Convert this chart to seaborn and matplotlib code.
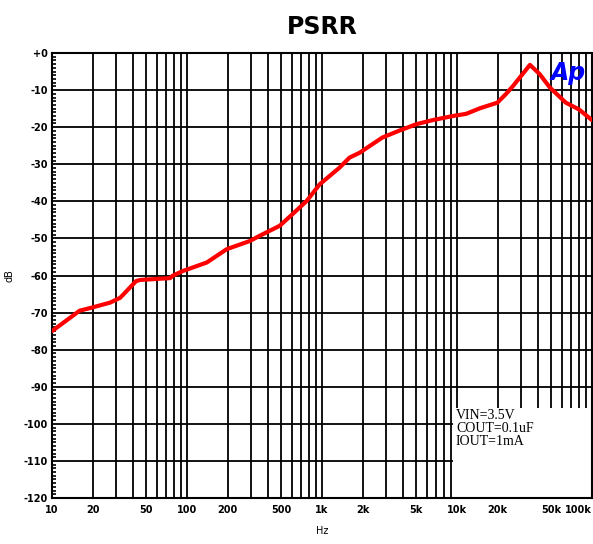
import numpy as np
import matplotlib
matplotlib.use('Agg')
import matplotlib.pyplot as plt
import seaborn as sns
from matplotlib.patches import Rectangle
from matplotlib.ticker import FixedLocator, MultipleLocator, NullFormatter


# PSRR curve (Hz, dB)
freq_hz = [10, 16, 20, 27, 32, 42, 45, 75, 78, 93, 140, 197, 292, 345, 486,
           607, 770, 962, 1350, 1600, 1900, 2800, 3700, 5000, 6600, 9300,
           11700, 14800, 19900, 23000, 26000, 34700, 41000, 48700, 64000,
           80000, 100000]
psrr_db = [-75.0, -69.5, -68.6, -67.3, -66.0, -61.5, -61.2, -60.7, -60.1, -58.8,
           -56.5, -52.9, -50.7, -49.3, -46.6, -43.4, -39.9, -35.4, -30.9, -28.2,
           -26.9, -22.8, -21.0, -19.2, -18.1, -17.0, -16.4, -14.9, -13.4, -11.1,
           -8.9, -3.2, -5.7, -9.3, -13.4, -15.2, -18.1]

x_ticks = [10, 20, 50, 100, 200, 500, 1000, 2000, 5000, 10000, 20000, 50000, 100000]
x_labels = ['10', '20', '50', '100', '200', '500', '1k', '2k', '5k', '10k', '20k', '50k', '100k']
y_ticks = list(range(0, -130, -10))
y_labels = ['+0'] + [str(v) for v in y_ticks[1:]]
notes = 'VIN=3.5V\nCOUT=0.1uF\nIOUT=1mA'

sns.set_style('white')
plt.rcParams['font.family'] = ['DejaVu Sans']
plt.rcParams.update({'text.color': 'black', 'axes.labelcolor': 'black',
                     'xtick.color': 'black', 'ytick.color': 'black'})

fig = plt.figure(figsize=(5.93, 5.44), dpi=100)
ax = fig.add_axes([52 / 593, 46 / 544, 540 / 593, 445 / 544])

sns.lineplot(x=freq_hz, y=psrr_db, color='red', linewidth=3, ax=ax, zorder=3)

ax.set_xscale('log')
ax.set_xlim(10, 100000)
ax.set_ylim(-120, 0)

# grid on every 1..9 of each decade, every 10 dB
minor_x = [m * 10 ** d for d in range(1, 5) for m in range(2, 10)]
ax.xaxis.set_major_locator(FixedLocator(x_ticks))
ax.xaxis.set_minor_locator(FixedLocator(minor_x))
ax.xaxis.set_minor_formatter(NullFormatter())
ax.set_xticklabels(x_labels)
ax.set_yticks(y_ticks)
ax.set_yticklabels(y_labels)
ax.yaxis.set_minor_locator(MultipleLocator(1))

ax.grid(True, which='major', axis='y', color='black', linewidth=1.3)
ax.grid(True, which='both', axis='x', color='black', linewidth=1.3)

ax.tick_params(axis='y', which='major', direction='in', length=7, width=1.2,
               labelsize=7, pad=3)
ax.tick_params(axis='y', which='minor', direction='in', length=3, width=1.2, left=True)
ax.tick_params(axis='x', which='major', direction='in', length=0, labelsize=7, pad=5)
ax.tick_params(axis='x', which='minor', length=0)
for lbl in ax.get_xticklabels():
    lbl.set_fontweight('bold')
ax.get_xticklabels()[-1].set_horizontalalignment('right')
for lbl in ax.get_yticklabels():
    lbl.set_fontweight('bold')

for s in ax.spines.values():
    s.set_color('black')
    s.set_linewidth(1.5)

# white box holding the test conditions
ax.add_patch(Rectangle((0.743, 0), 0.26, 0.202, transform=ax.transAxes,
                       facecolor='white', edgecolor='none', zorder=2.5))
ax.text(0.748, 0.2, notes, transform=ax.transAxes, ha='left', va='top',
        fontsize=10, family='Liberation Serif', linespacing=1.0, zorder=4)

ax.text(0.955, 0.955, 'Ap', transform=ax.transAxes, ha='center', va='center',
        fontsize=17, color='#0000ff', fontweight='bold', style='italic', zorder=4)

ax.set_title('PSRR', fontsize=17, fontweight='bold', pad=14, color='black')
ax.set_xlabel('Hz', fontsize=7, labelpad=8)
ax.set_ylabel('dB', fontsize=7)
ax.yaxis.set_label_coords(-0.07, 0.5)

fig.savefig('out.png', dpi=100)
